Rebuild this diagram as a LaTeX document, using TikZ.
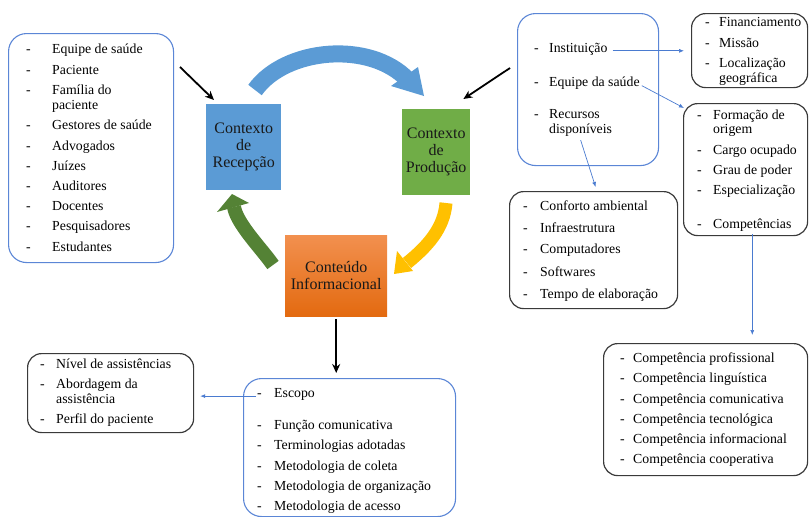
\documentclass[tikz,border=0pt]{standalone}
\usepackage{fontspec}
\setmainfont{Liberation Serif}
\usetikzlibrary{arrows.meta}
\definecolor{boxblue}{HTML}{5B86D6}
\definecolor{boxgray}{HTML}{3A3A3A}
\definecolor{arcblue}{HTML}{5B9BD5}
\definecolor{recfill}{HTML}{5B9BD5}
\definecolor{prodfill}{HTML}{70AD47}
\definecolor{arcyellow}{HTML}{FFC000}
\definecolor{arcgreen}{HTML}{548235}
\definecolor{orangetop}{HTML}{F2904F}
\definecolor{orangebot}{HTML}{E36A10}
\definecolor{thinblue}{HTML}{4A7BD0}
\tikzset{
  lt/.style={font=\fontsize{13.8}{15}\selectfont, inner sep=0pt, anchor=base west, text=black},
  bluebox/.style={draw=boxblue, line width=1.1pt, rounded corners=18pt, anchor=north west, inner sep=0pt},
  blackbox/.style={draw=boxgray, line width=1.2pt, rounded corners=14pt, anchor=north west, inner sep=0pt},
  ctx/.style={anchor=north west, inner sep=0pt, align=center, font=\fontsize{16}{17}\selectfont, text=black!90},
  thinarrow/.style={draw=thinblue, line width=0.7pt, -{Latex[length=5pt,width=4pt]}},
  blackarrow/.style={draw=black, line width=1.8pt, -{Stealth[length=9pt,width=8pt]}},
}
\newcommand{\itm}[5]{\node[lt] (#1d) at (#2,#4) {-}; \node[lt] (#1) at (#3,#4) {#5};}
\newcommand{\cnt}[4]{\node[lt] (#1) at (#2,#3) {#4};}
\begin{document}
\begin{tikzpicture}[x=1pt,y=-1pt]
\useasboundingbox (0,0) rectangle (809,517);

% boxes
\node[bluebox, minimum width=165pt, minimum height=229pt] (leftbox) at (8,33) {};
\node[bluebox, minimum width=141pt, minimum height=152pt] (rtbox) at (517,13) {};
\node[blackbox, minimum width=116pt, minimum height=74pt] (finbox) at (691,13) {};
\node[blackbox, minimum width=124pt, minimum height=132pt] (formbox) at (683,103) {};
\node[blackbox, minimum width=168pt, minimum height=117pt] (confbox) at (509,191) {};
\node[blackbox, minimum width=204pt, minimum height=132pt] (compbox) at (603,343) {};
\node[bluebox, minimum width=212pt, minimum height=138pt] (escbox) at (243,378) {};
\node[blackbox, minimum width=166pt, minimum height=79pt] (nivbox) at (27,353) {};

% central boxes
\node[ctx, fill=recfill, minimum width=75pt, minimum height=86pt] (recep) at (206,104) {Contexto\\de\\Recepção};
\node[ctx, fill=prodfill, minimum width=68pt, minimum height=86pt] (prod) at (402,109) {Contexto\\de\\Produção};
\node[ctx, top color=orangetop, bottom color=orangebot, minimum width=102pt, minimum height=81pt] (cont) at (285,235) {Conteúdo\\Informacional};

% curved arrows
\draw[line width=17pt, arcblue] (255,90) .. controls (285,48) and (370,40) .. (408,80);
\fill[arcblue] (418,67) -- (424,96) -- (391,86) -- cycle;
\draw[line width=13pt, arcyellow] (446,203) .. controls (444,228) and (428,246) .. (407,263);
\fill[arcyellow] (397,251) -- (413,271) -- (394,274) -- cycle;
\draw[line width=14pt, arcgreen] (273,265) .. controls (261,248) and (237,224) .. (234,207);
\fill[arcgreen] (217,212) -- (232,194) -- (249,203) -- cycle;

% left list
\itm{a1}{26}{52}{53}{Equipe de saúde}
\itm{a2}{26}{52}{74}{Paciente}
\itm{a3}{26}{52}{94}{Família do}
\cnt{a3b}{52}{109}{paciente}
\itm{a4}{26}{52}{129}{Gestores de saúde}
\itm{a5}{26}{52}{150}{Advogados}
\itm{a6}{26}{52}{170}{Juízes}
\itm{a7}{26}{52}{190}{Auditores}
\itm{a8}{26}{52}{210}{Docentes}
\itm{a9}{26}{52}{230}{Pesquisadores}
\itm{a10}{26}{52}{251}{Estudantes}

% right top list
\itm{inst}{534}{549}{52}{Instituição}
\itm{eqs}{534}{549}{86}{Equipe da saúde}
\itm{rec}{534}{549}{118}{Recursos}
\cnt{disp}{549}{133}{disponíveis}

% financiamento
\itm{f1}{705}{719}{26}{Financiamento}
\itm{f2}{705}{719}{47}{Missão}
\itm{f3}{705}{719}{67}{Localização}
\cnt{f3b}{719}{82}{geográfica}

% formacao
\itm{g1}{697}{713}{119}{Formação de}
\cnt{g1b}{713}{133}{origem}
\itm{g2}{697}{713}{154}{Cargo ocupado}
\itm{g3}{697}{713}{174}{Grau de poder}
\itm{g4}{697}{713}{194}{Especialização}
\itm{compt}{697}{713}{228}{Competências}

% conforto
\itm{c1}{523}{540}{210}{Conforto ambiental}
\itm{c2}{523}{540}{232}{Infraestrutura}
\itm{c3}{523}{540}{253}{Computadores}
\itm{c4}{523}{540}{276}{Softwares}
\itm{c5}{523}{540}{298}{Tempo de elaboração}

% competencias
\itm{k1}{620}{633}{362}{Competência profissional}
\itm{k2}{620}{633}{382}{Competência linguística}
\itm{k3}{620}{633}{403}{Competência comunicativa}
\itm{k4}{620}{633}{423}{Competência tecnológica}
\itm{k5}{620}{633}{443}{Competência informacional}
\itm{k6}{620}{633}{463}{Competência cooperativa}

% escopo
\itm{esc}{257}{274}{397}{Escopo}
\itm{e2}{257}{274}{429}{Função comunicativa}
\itm{e3}{257}{274}{449}{Terminologias adotadas}
\itm{e4}{257}{274}{470}{Metodologia de coleta}
\itm{e5}{257}{274}{490}{Metodologia de organização}
\itm{e6}{257}{274}{510}{Metodologia de acesso}

% nivel
\itm{n1}{40}{56}{368}{Nível de assistências}
\itm{n2}{40}{56}{388}{Abordagem da}
\cnt{n2b}{56}{403}{assistência}
\itm{n3}{40}{56}{423}{Perfil do paciente}

% thin blue connectors
\coordinate (instA) at ([xshift=5pt,yshift=-2pt]inst.east);
\coordinate (escA) at ([xshift=-1pt,yshift=-1pt]escd.west);
\draw[thinarrow] (instA) -- ([xshift=-7pt]finbox.west |- instA);
\draw[thinarrow] ([xshift=2pt,yshift=-3pt]eqs.east) -- ([shift={(1,5)}]formbox.north west);
\draw[thinarrow] ([yshift=-4pt]disp.south) -- ([xshift=2pt,yshift=4pt]confbox.north);
\draw[thinarrow] ([yshift=-3pt]compt.south) -- ([yshift=8pt]compt.south |- compbox.north);
\draw[thinarrow] (escA) -- ([xshift=6pt]nivbox.east |- escA);

% black arrows
\coordinate (s1) at (180,67);
\coordinate (s2) at (510,68);
\draw[blackarrow] (s1) -- ([shift={(8,-4)}]recep.north west);
\draw[blackarrow] (s2) -- ([shift={(-7,-10)}]prod.north east);
\draw[blackarrow] ([yshift=-3pt]cont.south) -- ([yshift=5pt]escbox.north -| cont.south);
\end{tikzpicture}
\end{document}
